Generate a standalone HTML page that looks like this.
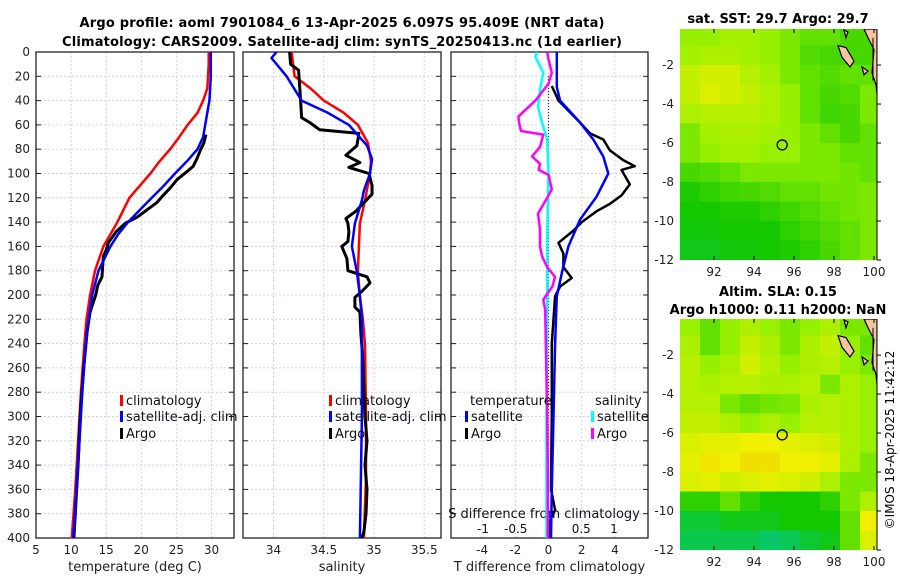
<!DOCTYPE html>
<html><head><meta charset="utf-8"><style>
html,body{margin:0;padding:0;background:#fff;}
svg{display:block;font-family:"DejaVu Sans","Liberation Sans",sans-serif;}
</style></head><body>
<svg id="fig" width="900" height="580" viewBox="0 0 900 580" xmlns="http://www.w3.org/2000/svg">
<text x="342" y="27" text-anchor="middle" font-weight="bold" font-size="13" textLength="525">Argo profile: aoml 7901084_6 13-Apr-2025 6.097S 95.409E (NRT data)</text>
<text x="342" y="46" text-anchor="middle" font-weight="bold" font-size="13" textLength="560">Climatology: CARS2009. Satellite-adj clim: synTS_20250413.nc (1d earlier)</text>
<text x="778" y="23" text-anchor="middle" font-weight="bold" font-size="13">sat. SST: 29.7 Argo: 29.7</text>
<text x="778" y="296" text-anchor="middle" font-weight="bold" font-size="13">Altim. SLA: 0.15</text>
<text x="778" y="314" text-anchor="middle" font-weight="bold" font-size="13">Argo h1000: 0.11 h2000: NaN</text>
<text transform="translate(894,440) rotate(-90)" text-anchor="middle" font-size="12">©IMOS 18-Apr-2025 11:42:12</text>
<g id="plots"></g>
</svg>
<script>
// ---- depths & profile data ----
const climDepth=[0,10,20,30,40,50,60,70,80,90,100,120,140,160,180,200,220,240,280,320,360,400];
const climTemp=[29.6,29.6,29.5,29.4,28.8,28.0,26.6,25.4,24.1,22.6,21.3,18.3,16.6,14.6,13.4,12.7,12.2,11.9,11.4,11.0,10.6,10.1];
const satDepth=[0,20,40,60,70,80,90,100,110,120,130,140,150,160,180,200,220,240,280,320,360,400];
const satTemp=[29.9,29.9,29.7,29.1,28.8,28.0,26.5,24.8,23.2,21.5,19.8,18.1,16.7,15.6,13.9,13.0,12.5,12.1,11.6,11.2,10.8,10.3];
const argoTDepth=[68,75,81,88,94,98,105,112,118,124,130,136,141,148,157,163,168,176,185,192,200,214,230,260,300,340,380,400];
const argoTemp=[29.2,28.9,28.4,27.9,27.4,26.6,25.1,24.1,23.1,22.2,20.8,19.4,17.7,16.4,15.3,15.0,14.6,14.5,14.4,13.8,13.5,12.7,12.3,11.8,11.3,11.0,10.6,10.4];
const climSDepth=[0,20,30,40,50,60,75,90,100,122,141,160,181,201,220,241,300,350,400];
const climSal=[34.18,34.21,34.37,34.5,34.7,34.84,34.94,34.97,34.96,34.91,34.86,34.85,34.84,34.86,34.89,34.91,34.92,34.92,34.9];
const satSDepth=[0,5,20,40,50,60,77,88,100,114,122,141,160,181,201,220,300,400];
const satSal=[34.03,33.98,34.13,34.28,34.54,34.75,34.93,34.98,34.96,34.9,34.88,34.81,34.78,34.83,34.86,34.88,34.88,34.86];
const argoSDepth=[0,10,15,40,54,58,64,67,77,85,91,95,100,110,117,124,131,137,141,148,156,160,170,180,185,190,197,202,210,214,232,253,280,300,320,340,360,380,395,400];
const argoSal=[34.16,34.17,34.25,34.27,34.28,34.36,34.46,34.85,34.83,34.72,34.86,34.75,34.95,34.98,34.98,34.9,34.82,34.72,34.74,34.75,34.74,34.68,34.73,34.74,34.93,34.96,34.88,34.81,34.81,34.86,34.87,34.89,34.9,34.91,34.93,34.91,34.93,34.92,34.9,34.88];
const dTsatDepth=[0,29,40,58,72,86,100,119,138,160,182,201,240,300,360,400];
const dTsat=[0.5,0.5,0.7,1.9,2.7,3.3,3.6,2.9,1.9,1.2,0.8,0.5,0.4,0.3,0.2,0.15];
const dTargoDepth=[28,40,58,67,72,81,89,94,97,109,118,125,131,140,147,157,166,177,186,193,201,240,300,360,377,385,400];
const dTargo=[0.2,0.6,1.9,2.5,3.3,3.7,4.5,5.2,4.4,4.9,4.4,3.7,2.9,2.0,1.5,0.6,0.9,0.9,1.4,0.7,0.4,0.2,0.2,0.15,0.4,0.1,0.1];
const dSsatDepth=[0,4,17,31,45,58,72,100,150,200,300,400];
const dSsat=[-0.18,-0.2,-0.08,-0.13,-0.16,-0.1,-0.02,0,-0.02,-0.02,-0.03,-0.03];
const dSargoDepth=[0,6,17,26,40,53,58,65,68,78,86,92,97,101,113,120,133,146,160,168,177,185,193,199,204,212,243,300,350,400];
const dSargo=[-0.02,0,0.05,0,-0.2,-0.46,-0.45,-0.42,-0.08,-0.13,-0.25,-0.13,-0.15,0,0.05,-0.02,-0.16,-0.13,-0.13,-0.1,-0.02,0.1,0.06,-0.02,-0.08,-0.05,-0.04,-0.02,-0.01,-0.01];
// ---- tick labels ----
const depthTicks=[0,20,40,60,80,100,120,140,160,180,200,220,240,260,280,300,320,340,360,380,400];
const tempTicks=[5,10,15,20,25,30];
const salTicks=[34,34.5,35,35.5];
const dTTicks=[-4,-2,0,2,4];
const dSTicks=[-1,-0.5,0,0.5,1];
const lonTicks=[92,94,96,98,100];
const latTicks=[-2,-4,-6,-8,-10,-12];
// ---- map grids (1-degree cells, rows from 0 to -12 lat, columns from 90.3E) ----
const sstGrid=[
[.55,.55,.58,.58,.55,.5,.45,.45,.4,.4],
[.58,.6,.6,.58,.55,.5,.42,.4,.4,.4],
[.65,.68,.68,.62,.58,.5,.45,.42,.45,.45],
[.65,.7,.68,.65,.6,.55,.45,.4,.42,.5],
[.6,.62,.62,.62,.6,.55,.45,.38,.4,.5],
[.5,.58,.6,.6,.58,.55,.5,.45,.4,.45],
[.5,.55,.58,.58,.55,.55,.5,.5,.45,.45],
[.4,.42,.45,.5,.5,.5,.5,.5,.48,.45],
[.32,.35,.38,.4,.42,.45,.45,.48,.48,.5],
[.3,.3,.32,.32,.35,.38,.42,.45,.48,.5],
[.28,.28,.3,.3,.3,.35,.38,.42,.45,.5],
[.25,.25,.28,.28,.3,.32,.35,.4,.45,.5]];
const slaGrid=[
[.55,.45,.55,.6,.55,.5,.55,.6,.5,.5],
[.6,.45,.55,.65,.6,.5,.6,.65,.55,.45],
[.62,.55,.6,.68,.62,.55,.6,.62,.55,.5],
[.62,.6,.62,.62,.6,.6,.62,.5,.6,.55],
[.62,.62,.5,.45,.48,.5,.6,.62,.6,.55],
[.65,.65,.6,.55,.6,.55,.62,.62,.6,.55],
[.7,.72,.72,.75,.75,.72,.7,.68,.6,.55],
[.72,.78,.75,.8,.8,.75,.75,.72,.6,.5],
[.7,.72,.68,.7,.72,.7,.68,.6,.5,.5],
[.35,.35,.45,.35,.3,.3,.3,.35,.5,.6],
[.2,.2,.25,.25,.25,.3,.3,.3,.45,.75],
[.15,.15,.15,.15,.1,.12,.2,.25,.45,.7]];
const argoLon=95.409, argoLat=-6.097;

const NS='http://www.w3.org/2000/svg';
const root=document.getElementById('plots');
function mk(tag,attrs,parent){const e=document.createElementNS(NS,tag);for(const k in attrs)e.setAttribute(k,attrs[k]);(parent||root).appendChild(e);return e;}
const Y0=52,Y1=538;
function yD(d){return Y0+d*(Y1-Y0)/400;}
function panel(name,x0,x1,xs,ticks,fmt,label){
  const g=mk('g',{});
  
  
  ticks.forEach(t=>{const x=xs(t);if(x>x0+1&&x<x1-1)mk('line',{x1:x,x2:x,y1:Y0,y2:Y1,stroke:'#cdd3ec','stroke-dasharray':'2,2','stroke-width':1},g);});
  depthTicks.forEach(d=>{const y=yD(d);if(d>0&&d<400)mk('line',{x1:x0,x2:x1,y1:y,y2:y,stroke:'#cdd3ec','stroke-dasharray':'2,2','stroke-width':1},g);
    mk('line',{x1:x0,x2:x0+5,y1:y,y2:y,stroke:'#222'},g);mk('line',{x1:x1-5,x2:x1,y1:y,y2:y,stroke:'#222'},g);});
  mk('rect',{x:x0,y:Y0,width:x1-x0,height:Y1-Y0,fill:'none',stroke:'#222','stroke-width':1.3},g);
  ticks.forEach(t=>{const x=xs(t);const tl=mk('text',{x:x,y:554,'text-anchor':'middle','font-size':12,fill:'#222'},g);tl.textContent=fmt(t);});
  if(label){const l=mk('text',{x:(x0+x1)/2,y:571,'text-anchor':'middle','font-size':13,fill:'#222'},g);l.textContent=label;}
  return g;
}
function line(g,xs,depths,vals,color,w,name){
  let d='';vals.forEach((v,i)=>{d+=(i?'L':'M')+xs(v).toFixed(1)+','+yD(depths[i]).toFixed(1);});
  const p=mk('path',{d:d,fill:'none',stroke:color,'stroke-width':w,'stroke-linejoin':'round'},g);
  
  
}
function legend(g,x,y,color,text,name){
  mk('rect',{x:x,y:y-10,width:3,height:11,fill:color},g);
  const t=mk('text',{x:x+6,y:y,'font-size':13,fill:'#111'},g);t.textContent=text;
  
  
}
// Panel 1 temperature
const xT=v=>36+(v-5)*7.02;
const p1=panel('temperature-panel',36,234,xT,tempTicks,v=>String(v),'temperature (deg C)');
depthTicks.forEach(d=>{const t=mk('text',{x:30,y:yD(d)+4,'text-anchor':'end','font-size':12,fill:'#222'},p1);t.textContent=d;});
line(p1,xT,climDepth,climTemp,'#f00',2.5,'climatology-temp-line');
line(p1,xT,argoTDepth,argoTemp,'#000',3,'argo-temp-line');
line(p1,xT,satDepth,satTemp,'#00f',2.5,'satellite-temp-line');
legend(p1,120,405,'#f00','climatology','legend-climatology');
legend(p1,120,421,'#00f','satellite-adj. clim','legend-satellite');
legend(p1,120,438,'#000','Argo','legend-argo');
// Panel 2 salinity
const xS=v=>273.5+(v-34)*100.5;
const p2=panel('salinity-panel',243,441,xS,salTicks,v=>String(v),'salinity');
line(p2,xS,climSDepth,climSal,'#f00',2.5,'climatology-sal-line');
line(p2,xS,argoSDepth,argoSal,'#000',3,'argo-sal-line');
line(p2,xS,satSDepth,satSal,'#00f',2.5,'satellite-sal-line');
legend(p2,329,405,'#f00','climatology','legend-climatology-2');
legend(p2,329,421,'#00f','satellite-adj. clim','legend-satellite-2');
legend(p2,329,438,'#000','Argo','legend-argo-2');
// Panel 3 differences
const xDT=v=>548.5+v*16.6;
const xDS=v=>548.5+v*65.5;
const p3=panel('difference-panel',451,648,xDT,dTTicks,v=>String(v),'T difference from climatology');
mk('line',{x1:548.5,x2:548.5,y1:76,y2:Y1,stroke:'#333','stroke-dasharray':'1,2','stroke-width':1.2},p3);
dSTicks.forEach(t=>{const tl=mk('text',{x:xDS(t),y:533,'text-anchor':'middle','font-size':12,fill:'#111'},p3);tl.textContent=String(t);});
const sl=mk('text',{x:544,y:518,'text-anchor':'middle','font-size':13,fill:'#111'},p3);sl.textContent='S difference from climatology';
line(p3,xDS,dSsatDepth,dSsat,'#0ff',2.5,'satellite-sal-diff-line');
line(p3,xDS,dSargoDepth,dSargo,'#f0f',2.5,'argo-sal-diff-line');
line(p3,xDT,dTargoDepth,dTargo,'#000',2.5,'argo-temp-diff-line');
line(p3,xDT,dTsatDepth,dTsat,'#00f',2.5,'satellite-temp-diff-line');
const lt=mk('text',{x:470,y:405,'font-size':13,fill:'#111'},p3);lt.textContent='temperature';
const ls=mk('text',{x:595,y:405,'font-size':13,fill:'#111'},p3);ls.textContent='salinity';
legend(p3,465,421,'#00f','satellite','legend-temp-satellite');
legend(p3,465,438,'#000','Argo','legend-temp-argo');
legend(p3,591,421,'#0ff','satellite','legend-sal-satellite');
legend(p3,591,438,'#f0f','Argo','legend-sal-argo');
// Maps
const stops=[[0,[0,200,150]],[0.3,[20,200,0]],[0.55,[150,240,0]],[0.75,[240,240,0]],[1,[240,160,0]]];
function cmap(v){for(let i=1;i<stops.length;i++){if(v<=stops[i][0]){const a=stops[i-1],b=stops[i];const f=(v-a[0])/(b[0]-a[0]);const c=a[1].map((x,k)=>Math.round(x+(b[1][k]-x)*f));return 'rgb('+c.join(',')+')';}}return 'rgb(240,160,0)';}
function map(name,top,grid){
  const X0=680,X1=877,Y2=top+231;
  const lx=v=>714+(v-92)*20.0;
  const ly=v=>top+(-0.15-v)*(231/11.85);
  const g=mk('g',{});
  
  
  const cp=mk('clipPath',{id:name+'-clip'},g);mk('rect',{x:X0,y:top,width:X1-X0,height:231},cp);
  const cg=mk('g',{'clip-path':'url(#'+name+'-clip)'},g);
  grid.forEach((row,r)=>row.forEach((v,c)=>{
    const x=lx(90.3+c),y=ly(-r);
    const cell=mk('rect',{x:x,y:y,width:20.5,height:ly(-r-1)-y+0.5,fill:cmap(v)},cg);
    
    
  }));
  mk('path',{d:'M'+lx(99.5)+','+top+' L'+X1+','+top+' L'+X1+','+ly(-3.5)+' L'+lx(100.1)+','+ly(-3.0)+' L'+lx(99.9)+','+ly(-2.4)+' L'+lx(100.0)+','+ly(-1.2)+' L'+lx(99.7)+','+ly(-0.6)+'Z',fill:'#f8c49c',stroke:'#000','stroke-width':1.2},cg);
  mk('path',{d:'M'+lx(98.2)+','+ly(-1.0)+' L'+lx(98.6)+','+ly(-1.1)+' L'+lx(99.0)+','+ly(-1.8)+' L'+lx(98.8)+','+ly(-2.1)+' L'+lx(98.4)+','+ly(-1.6)+'Z',fill:'#f8c49c',stroke:'#000','stroke-width':1.2},cg);
  mk('path',{d:'M'+lx(98.5)+','+ly(-0.2)+' L'+lx(98.7)+','+ly(-0.3)+' L'+lx(98.6)+','+ly(-0.6)+'Z',fill:'#f8c49c',stroke:'#000','stroke-width':1.2},cg);
  mk('path',{d:'M'+lx(99.4)+','+ly(-2.1)+' L'+lx(99.7)+','+ly(-2.3)+' L'+lx(99.5)+','+ly(-2.5)+'Z',fill:'#f8c49c',stroke:'#000','stroke-width':1.2},cg);
  mk('line',{x1:lx(99.95),x2:lx(99.95),y1:ly(-0.6),y2:ly(-2.8),stroke:'#000','stroke-width':1},cg);
  const c=mk('circle',{cx:lx(argoLon),cy:ly(argoLat),r:5,fill:'none',stroke:'#000','stroke-width':1.3},g);
  
  
  mk('line',{x1:X1,x2:X1,y1:top,y2:Y2,stroke:'#000','stroke-width':1},g);
  lonTicks.forEach(t=>{mk('line',{x1:lx(t),x2:lx(t),y1:Y2,y2:Y2-4,stroke:'#000'},g);mk('line',{x1:lx(t),x2:lx(t),y1:top,y2:top+4,stroke:'#000'},g);const tl=mk('text',{x:lx(t),y:Y2+16,'text-anchor':'middle','font-size':12,fill:'#222'},g);tl.textContent=t;});
  latTicks.forEach(t=>{mk('line',{x1:X1,x2:X1+4,y1:ly(t),y2:ly(t),stroke:'#000'},g);const tl=mk('text',{x:674,y:ly(t)+4,'text-anchor':'end','font-size':12,fill:'#222'},g);tl.textContent=t;});
}
map('sst-map',29,sstGrid);
map('sla-map',319,slaGrid);
</script>
</body></html>
